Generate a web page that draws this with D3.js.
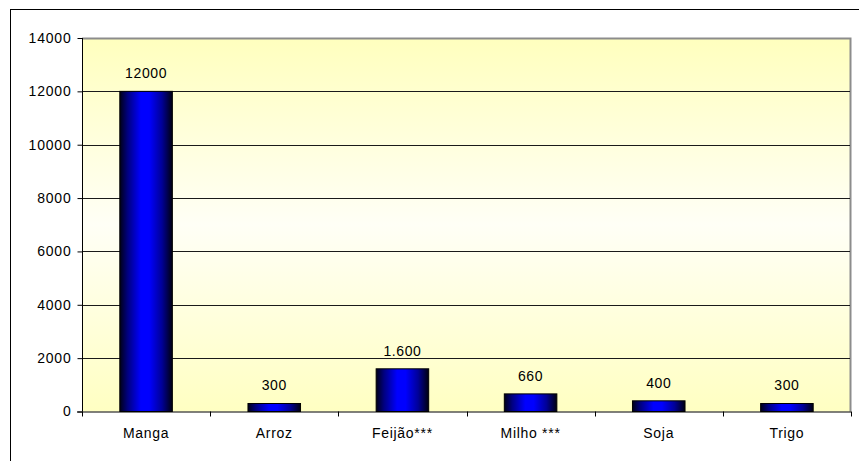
<!DOCTYPE html>
<html>
<head>
<meta charset="utf-8">
<script src="https://cdn.jsdelivr.net/npm/d3@7"></script>
<style>
  html, body { margin: 0; padding: 0; background: #fff; }
  svg { display: block; font-family: Arial, "Liberation Sans", sans-serif; }
</style>
</head>
<body>
<svg id="chart" width="859" height="461"></svg>
<script>
// Production by crop
const categories = ["Manga", "Arroz", "Feijão***", "Milho ***", "Soja", "Trigo"];
const values = [12000, 300, 1600, 660, 400, 300];
const valueLabels = ["12000", "300", "1.600", "660", "400", "300"];
const yTicks = [0, 2000, 4000, 6000, 8000, 10000, 12000, 14000];

const svg = d3.select("#chart");
const W = 859, H = 461;
const plot = { left: 82, top: 38, right: 851, bottom: 411.5 };
const FONT = "Arial, 'Liberation Sans', sans-serif";

// Outer frame
svg.append("rect")
  .attr("x", 10.5).attr("y", 9.5)
  .attr("width", W + 20).attr("height", H + 20)
  .attr("fill", "#fff").attr("stroke", "#000").attr("stroke-width", 1);

const defs = svg.append("defs");
const bg = defs.append("linearGradient").attr("id", "bg")
  .attr("x1", 0).attr("y1", 0).attr("x2", 0).attr("y2", 1);
bg.append("stop").attr("offset", "0%").attr("stop-color", "#ffffbe");
bg.append("stop").attr("offset", "50%").attr("stop-color", "#fffff6");
bg.append("stop").attr("offset", "100%").attr("stop-color", "#ffffc2");

const barGrad = defs.append("linearGradient").attr("id", "bar")
  .attr("x1", 0).attr("y1", 0).attr("x2", 1).attr("y2", 0);
barGrad.append("stop").attr("offset", "0%").attr("stop-color", "#000018");
barGrad.append("stop").attr("offset", "15%").attr("stop-color", "#000080");
barGrad.append("stop").attr("offset", "40%").attr("stop-color", "#0000ff");
barGrad.append("stop").attr("offset", "56%").attr("stop-color", "#0000ff");
barGrad.append("stop").attr("offset", "80%").attr("stop-color", "#000098");
barGrad.append("stop").attr("offset", "100%").attr("stop-color", "#000010");

const x = d3.scaleBand().domain(categories)
  .range([plot.left, plot.right]).paddingInner(0).paddingOuter(0);
const y = d3.scaleLinear().domain([0, 14000]).range([plot.bottom, plot.top]);

// Plot background
svg.append("rect")
  .attr("x", plot.left).attr("y", plot.top)
  .attr("width", plot.right - plot.left).attr("height", plot.bottom - plot.top)
  .attr("fill", "url(#bg)");

// Plot border (top and right in gray)
svg.append("path")
  .attr("d", `M${plot.left},${plot.top + 0.5}H${plot.right - 0.5}V${plot.bottom}`)
  .attr("fill", "none").attr("stroke", "#8c8c8c").attr("stroke-width", 2);

// Gridlines
svg.append("g")
  .selectAll("line")
  .data(yTicks.filter(t => t > 0 && t < 14000))
  .join("line")
  .attr("x1", plot.left).attr("x2", plot.right - 1)
  .attr("y1", d => Math.round(y(d)) + 0.5).attr("y2", d => Math.round(y(d)) + 0.5)
  .attr("stroke", "#1a1a1a").attr("stroke-width", 1);

// Bars
const barW = x.bandwidth() * 0.41;
svg.append("g")
  .selectAll("rect")
  .data(values)
  .join("rect")
  .attr("x", (d, i) => x(categories[i]) + (x.bandwidth() - barW) / 2)
  .attr("y", d => y(d))
  .attr("width", barW)
  .attr("height", d => plot.bottom - y(d))
  .attr("fill", "url(#bar)")
  .attr("stroke", "#000").attr("stroke-width", 1);

// Value labels
svg.append("g")
  .selectAll("text")
  .data(values)
  .join("text")
  .attr("x", (d, i) => x(categories[i]) + x.bandwidth() / 2)
  .attr("y", d => y(d) - 13)
  .attr("text-anchor", "middle")
  .attr("font-size", 14)
  .attr("letter-spacing", 0.6)
  .attr("fill", "#000")
  .text((d, i) => valueLabels[i]);

// Y axis
const yAxis = svg.append("g")
  .attr("transform", `translate(${plot.left + 0.5},0)`)
  .call(d3.axisLeft(y).tickValues(yTicks).tickSize(5).tickPadding(6).tickFormat(d3.format("d")));
yAxis.select(".domain").attr("stroke", "#000").attr("d", `M0,${plot.top}V${plot.bottom}`);
yAxis.selectAll(".tick line").attr("stroke", "#000");
yAxis.selectAll(".tick text")
  .attr("font-size", 14).attr("fill", "#000")
  .attr("letter-spacing", 0.8)
  .attr("font-family", FONT);

// X axis
const xAxis = svg.append("g")
  .attr("transform", `translate(0,${plot.bottom})`);
xAxis.append("line")
  .attr("x1", plot.left - 5).attr("x2", plot.right)
  .attr("y1", 0.5).attr("y2", 0.5)
  .attr("stroke", "#000");
const boundaries = categories.map(c => x(c)).concat([x(categories[categories.length - 1]) + x.bandwidth()]);
xAxis.selectAll("line.tk")
  .data(boundaries)
  .join("line").attr("class", "tk")
  .attr("x1", d => Math.round(d) + 0.5).attr("x2", d => Math.round(d) + 0.5)
  .attr("y1", 0).attr("y2", 5)
  .attr("stroke", "#000");
xAxis.selectAll("text")
  .data(categories)
  .join("text")
  .attr("x", d => x(d) + x.bandwidth() / 2)
  .attr("y", 26)
  .attr("text-anchor", "middle")
  .attr("font-size", 14)
  .attr("letter-spacing", 0.7)
  .attr("fill", "#000")
  .text(d => d);
</script>
</body>
</html>
